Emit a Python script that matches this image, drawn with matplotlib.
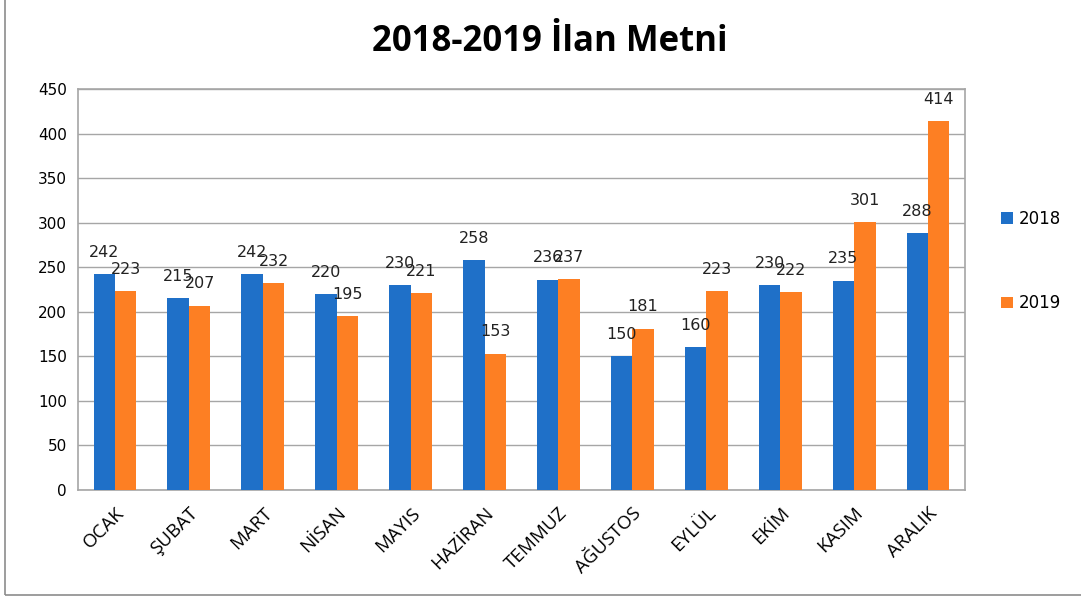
import numpy as np
import matplotlib.pyplot as plt
from matplotlib.patches import Rectangle

months = ['OCAK', 'ŞUBAT', 'MART', 'NİSAN', 'MAYIS', 'HAZİRAN', 'TEMMUZ',
          'AĞUSTOS', 'EYLÜL', 'EKİM', 'KASIM', 'ARALIK']
values_2018 = [242, 215, 242, 220, 230, 258, 236, 150, 160, 230, 235, 288]
values_2019 = [223, 207, 232, 195, 221, 153, 237, 181, 223, 222, 301, 414]

blue = '#1f70c8'
orange = '#fd7f23'

fig = plt.figure(figsize=(10.81, 6), dpi=100)
ax = fig.add_axes([0.0722, 0.1833, 0.8205, 0.6684])

x = np.arange(len(months))
w = 0.29
b1 = ax.bar(x - w / 2, values_2018, w, color=blue, label='2018', zorder=3)
b2 = ax.bar(x + w / 2, values_2019, w, color=orange, label='2019', zorder=3)

# etiketler
for bars in (b1, b2):
    for r in bars:
        ax.text(r.get_x() + r.get_width() / 2, r.get_height() + 16, str(int(r.get_height())),
                ha='center', va='bottom', fontsize=11.5, color='#222222', zorder=4)

ax.set_xlim(-0.5, len(months) - 0.5)
ax.set_ylim(0, 450)
ax.set_yticks(range(0, 451, 50))
ax.yaxis.grid(True, color='#a6a6a6', linewidth=1, zorder=0)
ax.tick_params(axis='both', length=0)
ax.tick_params(axis='y', labelsize=11, pad=8)
ax.set_xticks(x)
ax.set_xticklabels(months, rotation=45, ha='right', rotation_mode='anchor',
                   fontsize=13.5, family='Open Sans')
ax.tick_params(axis='x', pad=10)
for s in ax.spines.values():
    s.set_color('#a6a6a6')
    s.set_linewidth(1.2)

fig.text(0.509, 0.93, '2018-2019 İlan Metni', ha='center', va='center',
         fontsize=25, fontweight='bold', family='Open Sans')

leg = fig.legend(handles=[b1, b2], loc='center left', bbox_to_anchor=(0.912, 0.565),
                 frameon=False, fontsize=12, handlelength=0.7, handleheight=0.7,
                 handletextpad=0.4, labelspacing=4.0)

fig.patches.append(Rectangle((0.005, 0.008), 1.2, 1.2, transform=fig.transFigure,
                             fill=False, edgecolor='#8c8c8c', linewidth=1.2))

fig.savefig('out.png', dpi=100)
